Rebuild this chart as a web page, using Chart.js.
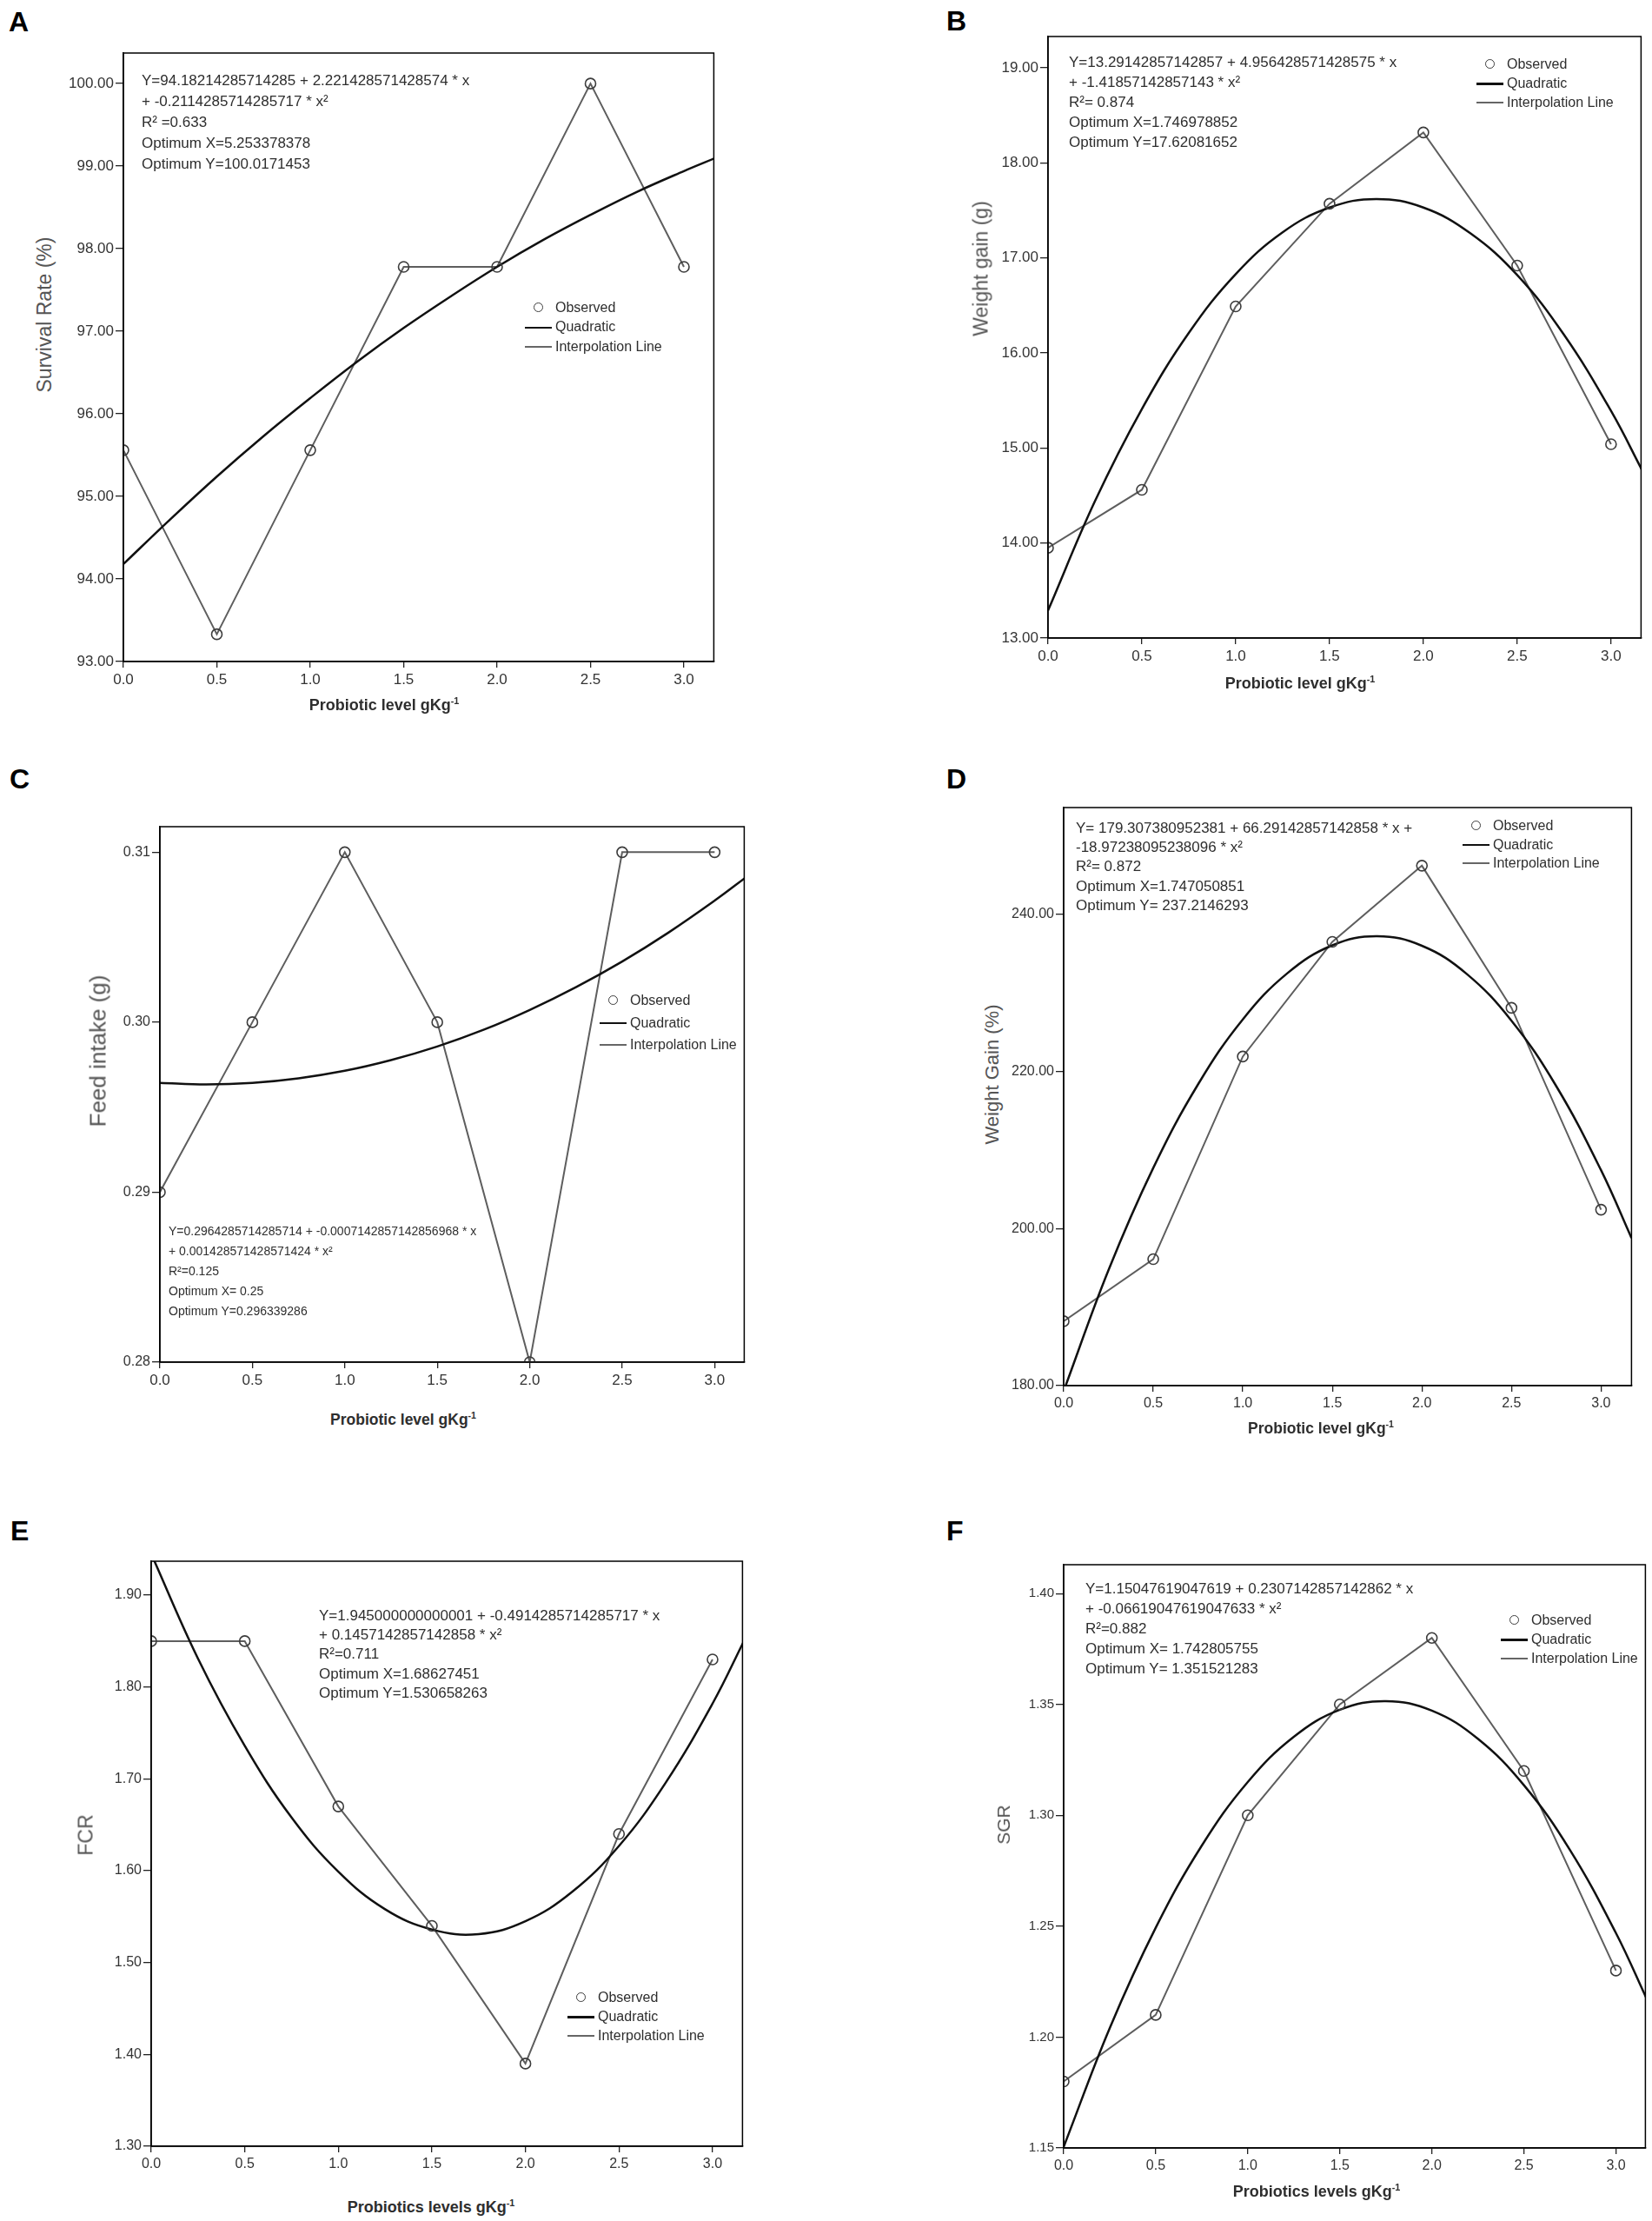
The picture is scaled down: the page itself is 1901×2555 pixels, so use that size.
<!DOCTYPE html>
<html>
<head>
<meta charset="utf-8">
<script src="https://cdn.jsdelivr.net/npm/chart.js@4.4.0/dist/chart.umd.min.js"></script>
<style>
body{margin:0;background:#fff;font-family:"Liberation Sans",Arial,sans-serif;}
#page{position:relative;width:1901px;height:2555px;overflow:hidden;background:#fff;}
.box{position:absolute;}
.letter{position:absolute;font-weight:bold;font-size:32px;line-height:32px;color:#000;}
.note{position:absolute;color:#2e2e2e;white-space:nowrap;}
.ytitle{position:absolute;color:#555;white-space:nowrap;transform:translate(-50%,-50%) rotate(-90deg);}
.xtitle{position:absolute;color:#2e2e2e;font-weight:bold;white-space:nowrap;transform:translate(-50%,-50%);}
.xtitle sup{font-size:0.6em;}
.legend{position:absolute;color:#2e2e2e;white-space:nowrap;}
.legend .row{position:relative;}
.legend .sym{position:absolute;left:0;top:0;width:31px;height:100%;}
.legend .txt{position:absolute;left:35px;top:0;}
.sym .dot{position:absolute;left:10px;top:50%;width:9px;height:9px;margin-top:-6px;border:1.6px solid #3c3c3c;border-radius:50%;}
.sym .quad{position:absolute;left:0;right:0;top:50%;height:2.5px;margin-top:-1px;background:#111;}
.sym .interp{position:absolute;left:0;right:0;top:50%;height:2px;margin-top:-1px;background:#666;}
</style>
</head>
<body>
<div id="page"></div>
<script>
// observed values per probiotic level
var levels = [0, 0.5, 1.0, 1.5, 2.0, 2.5, 3.0];
var survival = [95.56, 93.33, 95.56, 97.78, 97.78, 100.00, 97.78];
var weightGainG = [13.95, 14.56, 16.49, 17.57, 18.32, 16.92, 15.04];
var feedIntake = [0.29, 0.30, 0.31, 0.30, 0.28, 0.31, 0.31];
var weightGainPct = [188.2, 196.1, 221.9, 236.5, 246.2, 228.1, 202.4];
var fcr = [1.85, 1.85, 1.67, 1.54, 1.39, 1.64, 1.83];
var sgr = [1.18, 1.21, 1.30, 1.35, 1.38, 1.32, 1.23];

// quadratic curve
var fitLevels = [0, 0.25, 0.5, 0.75, 1.0, 1.25, 1.5, 1.75, 2.0, 2.25, 2.5, 2.75, 3.0, 3.17];
var survivalFit = [94.18, 94.72, 95.24, 95.73, 96.19, 96.63, 97.04, 97.42, 97.78, 98.11, 98.41, 98.69, 98.94, 99.10];
var weightGainGFit = [13.29, 14.44, 15.41, 16.21, 16.83, 17.27, 17.53, 17.62, 17.53, 17.26, 16.82, 16.19, 15.39, 14.75];
var feedIntakeFit = [0.29643, 0.29634, 0.29643, 0.29670, 0.29714, 0.29777, 0.29857, 0.29955, 0.30072, 0.30206, 0.30357, 0.30527, 0.30715, 0.30853];
var weightGainPctFit = [179.31, 194.69, 207.71, 218.35, 226.63, 232.53, 236.06, 237.21, 236.00, 232.42, 226.46, 218.13, 207.43, 198.80];
var fcrFit = [1.945, 1.831, 1.736, 1.658, 1.599, 1.558, 1.536, 1.531, 1.545, 1.577, 1.627, 1.696, 1.782, 1.851];
var sgrFit = [1.1505, 1.2040, 1.2493, 1.2863, 1.3150, 1.3354, 1.3476, 1.3515, 1.3472, 1.3345, 1.3136, 1.2844, 1.2469, 1.2167];

var yTicksA = [93, 100, 1];
var yTicksB = [13, 19, 1];
var yTicksC = [0.28, 0.31, 0.01];
var yTicksD = [180, 240, 20];
var yTicksE = [1.30, 1.90, 0.1];
var yTicksF = [1.15, 1.40, 0.05];

// the figure text is a narrow face; use Liberation Sans Narrow when it is installed
function hasFont(name){
  var c = document.createElement('canvas').getContext('2d');
  var s = '0123456789 abcdefgh XYZ';
  c.font = '40px monospace';
  var w1 = c.measureText(s).width;
  c.font = '40px "' + name + '", monospace';
  return c.measureText(s).width !== w1;
}
var NARROW = hasFont('Liberation Sans Narrow');
var FONT = NARROW ? '"Liberation Sans Narrow", "Liberation Sans", Arial, sans-serif' : '"Liberation Sans", Arial, sans-serif';
var FS = NARROW ? 1.2 : 1;

var panels = [
 {letter:'A', letterPos:[10,25], frame:[142,61,825,761], ymin:93, ymax:100.37, yt:yTicksA, dec:2, xmax:3.16,
  obs:survival, fit:survivalFit, yFont:17, xFont:17,
  ytitle:'Survival Rate (%)', ytPos:[51,362,23], xtitle:'Probiotic level gKg', xtPos:[442,811,18],
  note:['Y=94.18214285714285 + 2.221428571428574 * x','+ -0.2114285714285717 * x\u00b2','R\u00b2 =0.633','Optimum X=5.253378378','Optimum Y=100.0171453'],
  notePos:[163,93,24,17], legPos:[604,354,22.5]},
 {letter:'B', letterPos:[1089,24], frame:[1206,42,1892,734], ymin:13, ymax:19.33, yt:yTicksB, dec:2, xmax:3.16,
  obs:weightGainG, fit:weightGainGFit, yFont:17, xFont:17,
  ytitle:'Weight gain (g)', ytPos:[1129,309,23], xtitle:'Probiotic level gKg', xtPos:[1496,786,18],
  note:['Y=13.29142857142857 + 4.956428571428575 * x','+ -1.41857142857143 * x\u00b2','R\u00b2= 0.874','Optimum X=1.746978852','Optimum Y=17.62081652'],
  notePos:[1230,71,23,17], legPos:[1699,74,22]},
 {letter:'C', letterPos:[11,896], frame:[184,951,860,1567], ymin:0.28, ymax:0.3115, yt:yTicksC, dec:2, xmax:3.16,
  obs:feedIntake, fit:feedIntakeFit, yFont:16, xFont:17,
  ytitle:'Feed intake (g)', ytPos:[113,1209,26], xtitle:'Probiotic level gKg', xtPos:[464,1633,17.5],
  note:['Y=0.2964285714285714 + -0.0007142857142856968 * x','+ 0.001428571428571424 * x\u00b2','R\u00b2=0.125','Optimum X= 0.25','Optimum Y=0.296339286'],
  notePos:[194,1416,23,14], legPos:[690,1151,25.5]},
 {letter:'D', letterPos:[1089,896], frame:[1224,929,1881,1594], ymin:180, ymax:253.6, yt:yTicksD, dec:2, xmax:3.17,
  obs:weightGainPct, fit:weightGainPctFit, yFont:16, xFont:16,
  ytitle:'Weight Gain (%)', ytPos:[1142,1236,22], xtitle:'Probiotic level gKg', xtPos:[1520,1643,17.5],
  note:['Y= 179.307380952381 + 66.29142857142858 * x +','-18.97238095238096 * x\u00b2','R\u00b2= 0.872','Optimum X=1.747050851','Optimum Y= 237.2146293'],
  notePos:[1238,953,22.3,17], legPos:[1683,950,21.5]},
 {letter:'E', letterPos:[12,1761], frame:[174,1796,858,2469], ymin:1.30, ymax:1.937, yt:yTicksE, dec:2, xmax:3.16,
  obs:fcr, fit:fcrFit, yFont:16, xFont:16,
  ytitle:'FCR', ytPos:[99,2111,23], xtitle:'Probiotics levels gKg', xtPos:[496,2539,18],
  note:['Y=1.945000000000001 + -0.4914285714285717 * x','+ 0.1457142857142858 * x\u00b2','R\u00b2=0.711','Optimum X=1.68627451','Optimum Y=1.530658263'],
  notePos:[367,1859,22.3,17], legPos:[653,2298,22]},
 {letter:'F', letterPos:[1089,1761], frame:[1224,1800,1897,2471], ymin:1.15, ymax:1.413, yt:yTicksF, dec:2, xmax:3.16,
  obs:sgr, fit:sgrFit, yFont:15, xFont:16,
  ytitle:'SGR', ytPos:[1155,2099,21], xtitle:'Probiotics levels gKg', xtPos:[1515,2521,18],
  note:['Y=1.15047619047619 + 0.2307142857142862 * x','+ -0.06619047619047633 * x\u00b2','R\u00b2=0.882','Optimum X= 1.742805755','Optimum Y= 1.351521283'],
  notePos:[1249,1827,23,17], legPos:[1727,1864,22]}
];

var framePlugin = {
  id: 'frame',
  afterDatasetsDraw: function(chart){
    var a = chart.chartArea, c = chart.ctx;
    c.save();
    c.strokeStyle = '#000';
    c.lineWidth = 1.5;
    c.strokeRect(a.left, a.top, a.right - a.left, a.bottom - a.top);
    c.restore();
  }
};

var page = document.getElementById('page');

function addDiv(cls, html, css){
  var d = document.createElement('div');
  d.className = cls;
  d.innerHTML = html;
  for (var k in css) d.style[k] = css[k];
  page.appendChild(d);
  return d;
}

function toXY(xs, ys){
  var out = [];
  for (var i = 0; i < xs.length; i++) out.push({x: xs[i], y: ys[i]});
  return out;
}

function drawPanel(p){
  var L = p.frame[0], T = p.frame[1], R = p.frame[2], B = p.frame[3];
  var padTop = 14, padRight = 4, yAxisW = 64, xAxisH = 44;

  var box = document.createElement('div');
  box.className = 'box';
  box.style.left = (L - yAxisW) + 'px';
  box.style.top = (T - padTop) + 'px';
  box.style.width = (R - L + yAxisW + padRight) + 'px';
  box.style.height = (B - T + padTop + xAxisH) + 'px';
  var cv = document.createElement('canvas');
  box.appendChild(cv);
  page.appendChild(box);

  new Chart(cv.getContext('2d'), {
    type: 'line',
    data: {
      datasets: [{
        label: 'Observed',
        data: toXY(levels, p.obs),
        showLine: false,
        pointStyle: 'circle',
        pointRadius: 6,
        pointBorderWidth: 1.6,
        pointBorderColor: '#3c3c3c',
        pointBackgroundColor: 'rgba(0,0,0,0)',
        clip: 0,
        order: 0
      }, {
        label: 'Quadratic',
        data: toXY(fitLevels, p.fit),
        borderColor: '#111',
        borderWidth: 2.5,
        pointRadius: 0,
        tension: 0.4,
        fill: false,
        clip: 0,
        order: 1
      }, {
        label: 'Interpolation Line',
        data: toXY(levels, p.obs),
        borderColor: '#5e5e5e',
        borderWidth: 2,
        pointRadius: 0,
        tension: 0,
        fill: false,
        clip: 0,
        order: 2
      }]
    },
    options: {
      responsive: true,
      maintainAspectRatio: false,
      animation: false,
      layout: { padding: { top: padTop, right: padRight, left: 0, bottom: 0 } },
      plugins: { legend: { display: false }, tooltip: { enabled: false } },
      scales: {
        x: {
          type: 'linear',
          min: 0,
          max: p.xmax,
          border: { display: true, color: '#000', width: 1.5 },
          grid: { drawOnChartArea: false, drawTicks: true, tickLength: 7, color: '#222', lineWidth: 1.3 },
          ticks: {
            stepSize: 0.5, includeBounds: false, autoSkip: false, maxRotation: 0, padding: 4,
            color: '#333', font: { family: FONT, size: p.xFont * FS },
            callback: function(v){ return Number(v).toFixed(1); }
          },
          afterFit: function(s){ s.height = xAxisH; }
        },
        y: {
          type: 'linear',
          min: p.ymin,
          max: p.ymax,
          border: { display: true, color: '#000', width: 1.5 },
          grid: { drawOnChartArea: false, drawTicks: true, tickLength: 9, color: '#222', lineWidth: 1.3 },
          ticks: {
            stepSize: p.yt[2], includeBounds: false, autoSkip: false, padding: 2,
            color: '#333', font: { family: FONT, size: p.yFont * FS },
            callback: function(v){ return Number(v).toFixed(p.dec); }
          },
          afterFit: function(s){ s.width = yAxisW; }
        }
      }
    },
    plugins: [framePlugin]
  });

  // panel letter, axis titles, equation text, legend
  addDiv('letter', p.letter, { left: p.letterPos[0] + 'px', top: (p.letterPos[1] - 16) + 'px' });
  addDiv('ytitle', p.ytitle, { left: p.ytPos[0] + 'px', top: p.ytPos[1] + 'px', fontSize: p.ytPos[2] + 'px' });
  addDiv('xtitle', p.xtitle + '<sup>-1</sup>', {
    left: p.xtPos[0] + 'px', top: p.xtPos[1] + 'px', fontSize: (p.xtPos[2] * FS) + 'px', fontFamily: FONT
  });

  var lh = p.notePos[2];
  addDiv('note', p.note.join('<br>'), {
    left: p.notePos[0] + 'px', top: (p.notePos[1] - lh / 2) + 'px',
    lineHeight: lh + 'px', fontSize: (p.notePos[3] * FS) + 'px', fontFamily: FONT
  });

  var rh = p.legPos[2];
  var rows = [['dot', 'Observed'], ['quad', 'Quadratic'], ['interp', 'Interpolation Line']];
  var html = '';
  for (var i = 0; i < rows.length; i++) {
    html += '<div class="row" style="height:' + rh + 'px;line-height:' + rh + 'px">' +
      '<span class="sym"><span class="' + rows[i][0] + '"></span></span>' +
      '<span class="txt">' + rows[i][1] + '</span></div>';
  }
  addDiv('legend', html, {
    left: p.legPos[0] + 'px', top: (p.legPos[1] - rh / 2) + 'px',
    fontSize: (16 * FS) + 'px', fontFamily: FONT
  });
}

for (var i = 0; i < panels.length; i++) {
  drawPanel(panels[i]);
}
</script>
</body>
</html>
